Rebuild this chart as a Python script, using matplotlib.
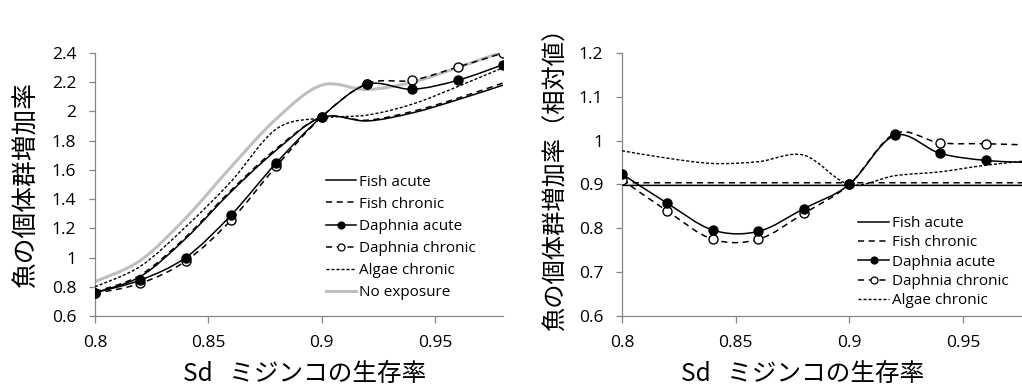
import numpy as np
import matplotlib
matplotlib.use("Agg")
import matplotlib.pyplot as plt
from matplotlib.path import Path
from matplotlib.patches import PathPatch
from matplotlib.lines import Line2D

plt.rcParams['font.family'] = ['Open Sans', 'Noto Sans CJK JP', 'DejaVu Sans']

# survival rate of Daphnia (x)
sd = [0.80, 0.82, 0.84, 0.86, 0.88, 0.90, 0.92, 0.94, 0.96, 0.98]

# left panel: fish population growth rate
fish_acute = [0.76, 0.87, 1.13, 1.45, 1.735, 1.96, 1.935, 1.99, 2.08, 2.18]
fish_chronic = [0.765, 0.88, 1.14, 1.46, 1.745, 1.96, 1.94, 2.00, 2.09, 2.195]
daphnia_acute = [0.76, 0.846, 1.00, 1.29, 1.648, 1.963, 2.185, 2.152, 2.213, 2.32]
daphnia_chronic = [0.755, 0.823, 0.976, 1.256, 1.625, 1.963, 2.19, 2.213, 2.304, 2.40]
algae_chronic = [0.80, 0.94, 1.21, 1.52, 1.88, 1.955, 1.975, 2.05, 2.17, 2.30]
no_exposure = [0.835, 0.98, 1.27, 1.62, 1.95, 2.18, 2.15, 2.20, 2.30, 2.41]

# right panel: relative values
fish_acute_rel = [0.898, 0.898, 0.898, 0.898, 0.898, 0.898, 0.898, 0.898, 0.898, 0.898]
fish_chronic_rel = [0.904, 0.904, 0.904, 0.904, 0.904, 0.904, 0.904, 0.904, 0.904, 0.904]
daphnia_acute_rel = [0.924, 0.857, 0.796, 0.793, 0.845, 0.90, 1.012, 0.971, 0.955, 0.950]
daphnia_chronic_rel = [0.911, 0.839, 0.775, 0.775, 0.834, 0.90, 1.016, 0.995, 0.993, 0.990]
algae_chronic_rel = [0.977, 0.960, 0.948, 0.952, 0.967, 0.90, 0.920, 0.929, 0.944, 0.955]

labels = ['Fish acute', 'Fish chronic', 'Daphnia acute', 'Daphnia chronic',
          'Algae chronic', 'No exposure']
xticks = [0.8, 0.85, 0.9, 0.95]
xtick_labels = ['0.8', '0.85', '0.9', '0.95']
yticks_left = [0.6, 0.8, 1.0, 1.2, 1.4, 1.6, 1.8, 2.0, 2.2, 2.4]
ytick_labels_left = ['0.6', '0.8', '1', '1.2', '1.4', '1.6', '1.8', '2', '2.2', '2.4']
yticks_right = [0.6, 0.7, 0.8, 0.9, 1.0, 1.1, 1.2]
ytick_labels_right = ['0.6', '0.7', '0.8', '0.9', '1', '1.1', '1.2']

xlabel = 'Sd   ミジンコの生存率'
ylabel_left = '魚の個体群増加率'
ylabel_right = '魚の個体群増加率（相対値）'

GRAY_AX = '#868686'
LONG_DASH = (0, (4, 3))
SHORT_DASH = (0, (2.2, 1.4))

styles = {
    'Fish acute': dict(color='black', lw=1.1, ls='-', marker=None),
    'Fish chronic': dict(color='black', lw=1.1, ls=LONG_DASH, marker=None),
    'Daphnia acute': dict(color='black', lw=1.1, ls='-', marker='o', mfc='black'),
    'Daphnia chronic': dict(color='black', lw=1.1, ls=LONG_DASH, marker='o', mfc='white'),
    'Algae chronic': dict(color='black', lw=1.0, ls=SHORT_DASH, marker=None),
    'No exposure': dict(color='#bfbfbf', lw=2.2, ls='-', marker=None),
}


def smooth_path(xs, ys):
    # Excel-like smoothed line: Catmull-Rom segments as cubic Bezier
    pts = np.column_stack([xs, ys]).astype(float)
    n = len(pts)
    verts = [pts[0]]
    codes = [Path.MOVETO]
    for i in range(n - 1):
        p0 = pts[i - 1] if i > 0 else pts[i]
        p1 = pts[i]
        p2 = pts[i + 1]
        p3 = pts[i + 2] if i + 2 < n else pts[i + 1]
        verts += [p1 + (p2 - p0) / 6, p2 - (p3 - p1) / 6, p2]
        codes += [Path.CURVE4] * 3
    return Path(verts, codes)


def draw_series(ax, ys, name, zorder):
    st = styles[name]
    patch = PathPatch(smooth_path(sd, ys), fill=False, edgecolor=st['color'],
                      lw=st['lw'], ls=st['ls'], zorder=zorder, capstyle='butt')
    ax.add_patch(patch)
    if st['marker']:
        ax.plot(sd, ys, ls='none', marker='o', ms=6.5, mfc=st['mfc'],
                mec='black', mew=1.0, zorder=zorder + 0.5)


def legend_handles(names):
    hs = []
    for name in names:
        st = styles[name]
        hs.append(Line2D([], [], color=st['color'], lw=st['lw'], ls=st['ls'],
                         marker=st['marker'] or '', ms=5, mfc=st.get('mfc', 'black'),
                         mec='black', mew=0.9))
    return hs


def style_axes(ax, ylim, yticks, yticklabels):
    ax.set_xlim(0.8, 0.98)
    ax.set_ylim(*ylim)
    ax.set_xticks(xticks)
    ax.set_xticklabels(xtick_labels)
    ax.set_yticks(yticks)
    ax.set_yticklabels(yticklabels)
    for s in ['top', 'right']:
        ax.spines[s].set_visible(False)
    for s in ['left', 'bottom']:
        ax.spines[s].set_color(GRAY_AX)
        ax.spines[s].set_linewidth(0.9)
    ax.tick_params(axis='x', direction='out', length=5, width=0.9, color=GRAY_AX,
                   labelsize=12.5, pad=9)
    ax.tick_params(axis='y', direction='out', length=4.5, width=0.9, color=GRAY_AX,
                   labelsize=12.5, pad=9)


fig = plt.figure(figsize=(10.22, 3.88), dpi=100)
W, H = 1022, 388
ax1 = fig.add_axes([95 / W, 72 / H, 408 / W, 263 / H])
ax2 = fig.add_axes([622 / W, 72 / H, 409 / W, 263 / H])

# left panel
left_series = [no_exposure, fish_acute, fish_chronic, algae_chronic,
               daphnia_chronic, daphnia_acute]
left_names = ['No exposure', 'Fish acute', 'Fish chronic', 'Algae chronic',
              'Daphnia chronic', 'Daphnia acute']
for k, (ys, name) in enumerate(zip(left_series, left_names)):
    draw_series(ax1, ys, name, 2 + k)
style_axes(ax1, (0.6, 2.4), yticks_left, ytick_labels_left)
ax1.legend(legend_handles(labels), labels, loc='upper left',
           bbox_to_anchor=(0.565, 0.538), frameon=False, fontsize=11,
           handlelength=2.0, handletextpad=0.2, labelspacing=0.47,
           borderpad=0, borderaxespad=0)

# right panel
right_series = [fish_acute_rel, fish_chronic_rel, algae_chronic_rel,
                daphnia_chronic_rel, daphnia_acute_rel]
right_names = ['Fish acute', 'Fish chronic', 'Algae chronic',
               'Daphnia chronic', 'Daphnia acute']
for k, (ys, name) in enumerate(zip(right_series, right_names)):
    draw_series(ax2, ys, name, 2 + k)
style_axes(ax2, (0.6, 1.2), yticks_right, ytick_labels_right)
ax2.legend(legend_handles(labels[:5]), labels[:5], loc='upper left',
           bbox_to_anchor=(0.578, 0.38), frameon=False, fontsize=11,
           handlelength=2.0, handletextpad=0.2, labelspacing=0.28,
           borderpad=0, borderaxespad=0)

cjk = ['Noto Sans CJK JP', 'DejaVu Sans']
fig.text(27 / W, 1 - 185 / H, ylabel_left, rotation=90, ha='center', va='center',
         fontsize=18.5, family=cjk)
fig.text(556 / W, 1 - 173 / H, ylabel_right, rotation=90, ha='center', va='center',
         fontsize=17.5, family=cjk)
fig.text(305 / W, 1 - 374 / H, xlabel, ha='center', va='center', fontsize=17.7, family=cjk)
fig.text(803 / W, 1 - 374 / H, xlabel, ha='center', va='center', fontsize=17.7, family=cjk)

fig.savefig('out.png', dpi=100)
